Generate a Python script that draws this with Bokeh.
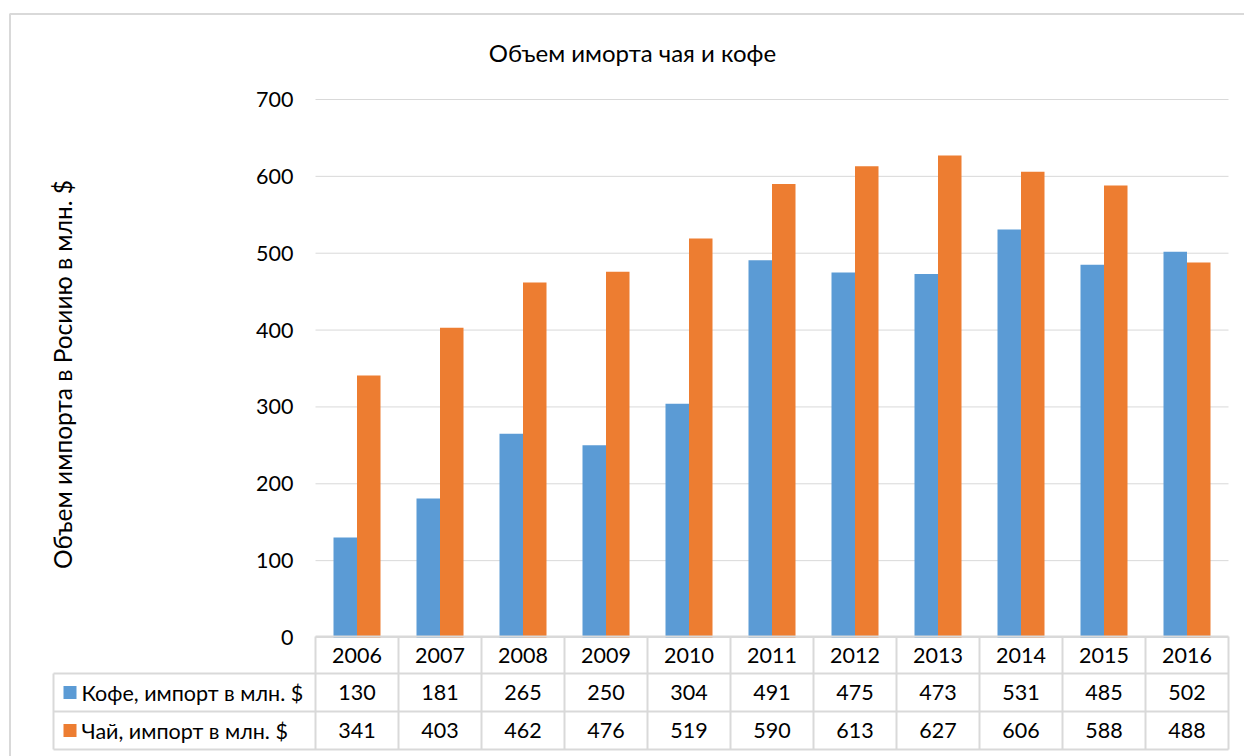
import math
from bokeh.plotting import figure
from bokeh.models import Range1d, ColumnDataSource
from bokeh.core.properties import value
from bokeh.embed import file_html
from bokeh.resources import INLINE

# ---------------- data ----------------
years = ["2006", "2007", "2008", "2009", "2010", "2011", "2012", "2013", "2014", "2015", "2016"]
coffee = [130, 181, 265, 250, 304, 491, 475, 473, 531, 485, 502]
tea = [341, 403, 462, 476, 519, 590, 613, 627, 606, 588, 488]
series_names = ["Кофе, импорт в млн. $", "Чай, импорт в млн. $"]
y_ticks = [0, 100, 200, 300, 400, 500, 600, 700]
title_text = "Объем иморта чая и кофе"
y_label = "Объем импорта в Росиию в млн. $"

BLUE = "#5B9BD5"
ORANGE = "#ED7D31"
GRID = "#D9D9D9"
FONT = value("Lato")

# ---------------- layout helpers (page pixel -> data units) ----------------
W, H = 1244, 756
PAGE_X0, PAGE_Y0 = 0, 0
X0 = 315.0           # left edge of first category (page px)
CW = 83.0            # category width (px)
V0 = 637.0           # y pixel of value 0
VS = 538.0 / 700.0   # px per value unit


def ux(px):
    return (px - X0) / CW


def uy(py):
    return (V0 - py) / VS


n = len(years)
p = figure(width=W, height=H, output_backend="svg", toolbar_location=None,
           x_range=Range1d(ux(PAGE_X0), ux(PAGE_X0 + W)),
           y_range=Range1d(uy(PAGE_Y0 + H), uy(PAGE_Y0)),
           x_axis_type=None, y_axis_type=None, min_border=0,
           background_fill_color="white", border_fill_color="white")
p.outline_line_color = None
p.grid.visible = False

# outer chart frame (top and left edges visible)
p.line(x=[ux(9.5), ux(9.5), ux(1250)], y=[uy(760), uy(13.5), uy(13.5)],
       line_color=GRID, line_width=2)

# gridlines
p.segment(x0=[0] * len(y_ticks), x1=[n] * len(y_ticks), y0=y_ticks, y1=y_ticks,
          line_color=GRID, line_width=1)

# y tick labels
p.text(x=[ux(293)] * len(y_ticks), y=y_ticks, text=[str(t) for t in y_ticks],
       text_align="right", text_baseline="middle", text_font=FONT,
       text_font_size="21.5px", text_color="#000000")

# bars
bw = 23.5 / CW
idx = list(range(n))
src = ColumnDataSource(dict(
    xc=[i + 0.5 - bw / 2 for i in idx],
    xt=[i + 0.5 + bw / 2 for i in idx],
    coffee=coffee, tea=tea))
p.vbar(x="xc", top="coffee", bottom=0, width=bw, source=src,
       fill_color=BLUE, line_color=None)
p.vbar(x="xt", top="tea", bottom=0, width=bw, source=src,
       fill_color=ORANGE, line_color=None)

# title
p.text(x=[ux(632)], y=[uy(52)], text=[title_text], text_align="center",
       text_baseline="middle", text_font=FONT, text_font_size="24px",
       text_color="#000000")

# y axis label
p.text(x=[ux(62)], y=[uy(374)], text=[y_label], angle=math.pi / 2,
       text_align="center", text_baseline="middle", text_font=FONT,
       text_font_size="24.5px", text_color="#000000")

# data table grid
tbl_left = 53
hx0 = [0, ux(tbl_left), ux(tbl_left), ux(tbl_left)]
hy = [uy(636), uy(673), uy(711), uy(749)]
p.segment(x0=hx0, x1=[n] * 4, y0=hy, y1=hy, line_color=GRID, line_width=2)
vx = [ux(tbl_left)] + list(range(n + 1))
vy0 = [uy(673)] + [uy(636)] * (n + 1)
p.segment(x0=vx, x1=vx, y0=vy0, y1=[uy(749)] * len(vx), line_color=GRID, line_width=2)

centers = [i + 0.5 for i in idx]
p.text(x=centers, y=[uy(655)] * n, text=years, text_align="center",
       text_baseline="middle", text_font=FONT, text_font_size="21.5px", text_color="#000000")
p.text(x=centers, y=[uy(692)] * n, text=[str(v) for v in coffee], text_align="center",
       text_baseline="middle", text_font=FONT, text_font_size="21.5px", text_color="#000000")
p.text(x=centers, y=[uy(730)] * n, text=[str(v) for v in tea], text_align="center",
       text_baseline="middle", text_font=FONT, text_font_size="21.5px", text_color="#000000")

# legend keys inside table
p.scatter(x=[ux(69.5)] * 2, y=[uy(692), uy(730)], marker="square", size=13,
          fill_color=[BLUE, ORANGE], line_color=None)
p.text(x=[ux(81)] * 2, y=[uy(692), uy(730)], text=series_names, text_align="left",
       text_baseline="middle", text_font=FONT, text_font_size="21.5px", text_color="#000000")

open("out.html", "w").write(file_html(p, INLINE))
